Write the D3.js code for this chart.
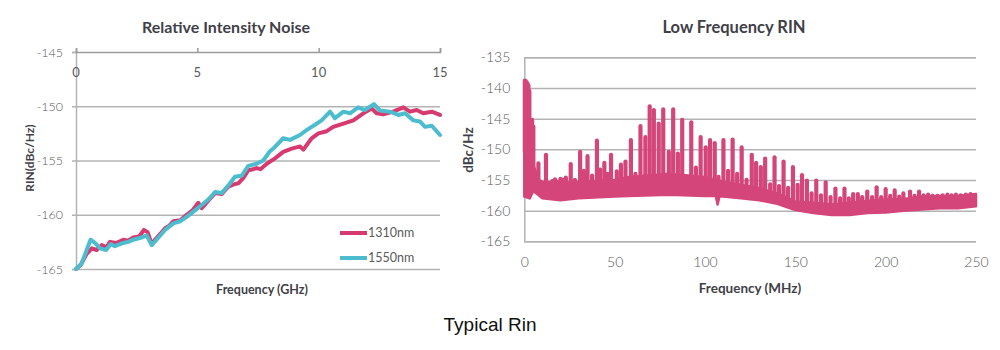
<!DOCTYPE html>
<html>
<head>
<meta charset="utf-8">
<script src="https://cdn.jsdelivr.net/npm/d3@7"></script>
<style>
  html, body { margin: 0; padding: 0; background: #fff; }
  svg { display: block; }
</style>
</head>
<body>
<svg id="chart" width="1000" height="350"></svg>
<script>
// ---------------- DATA ----------------
// Left chart: Relative Intensity Noise (GHz vs dBc/Hz)
const ghzTicks = [0, 5, 10, 15];
const rinTicks = [-145, -150, -155, -160, -165];
const seriesNames = ["1310nm", "1550nm"];

const ghz1310 = [0.0,0.2,0.44,0.65,0.85,1.06,1.25,1.4,1.65,1.95,2.15,2.36,2.6,2.8,2.95,3.12,3.3,3.5,3.67,3.85,4.01,4.3,4.56,4.8,5.04,5.18,5.45,5.73,6.0,6.28,6.5,6.69,6.9,7.1,7.3,7.44,7.6,7.86,8.2,8.54,8.89,9.23,9.37,9.71,9.99,10.33,10.6,11.02,11.43,11.84,12.18,12.39,12.66,13.07,13.49,13.76,14.04,14.31,14.66,15.0];
const rin1310 = [-165.0,-164.6,-163.6,-163.1,-163.25,-162.8,-163.0,-162.5,-162.6,-162.3,-162.4,-162.1,-162.0,-161.4,-161.6,-162.7,-162.2,-161.7,-161.25,-161.0,-160.6,-160.5,-160.0,-159.6,-158.9,-159.4,-158.7,-158.0,-158.1,-157.4,-157.2,-157.1,-156.6,-155.9,-155.8,-155.7,-155.8,-155.3,-154.8,-154.2,-153.9,-153.7,-154.0,-152.95,-152.5,-152.3,-151.9,-151.6,-151.3,-150.65,-150.2,-150.65,-150.75,-150.5,-150.1,-150.5,-150.35,-150.65,-150.5,-150.8];

const ghz1550 = [0.0,0.23,0.44,0.6,0.78,0.99,1.24,1.43,1.6,1.95,2.15,2.36,2.7,2.91,3.12,3.32,3.67,4.01,4.29,4.56,4.9,5.18,5.45,5.73,6.0,6.28,6.55,6.83,7.1,7.44,7.72,7.97,8.13,8.54,8.82,9.23,9.5,9.85,10.12,10.47,10.67,11.02,11.29,11.63,11.9,12.28,12.53,12.94,13.28,13.56,13.9,14.17,14.38,14.66,15.0];
const rin1550 = [-165.0,-164.5,-163.25,-162.3,-162.6,-163.1,-163.25,-162.7,-162.9,-162.6,-162.5,-162.3,-162.1,-161.9,-162.8,-162.3,-161.4,-160.8,-160.6,-160.2,-159.6,-159.1,-158.6,-157.9,-158.0,-157.3,-156.5,-156.4,-155.5,-155.3,-155.0,-154.2,-153.9,-152.95,-153.1,-152.65,-152.2,-151.7,-151.3,-150.5,-151.1,-150.5,-150.65,-150.1,-150.35,-149.8,-150.4,-150.5,-150.8,-150.65,-151.3,-151.4,-151.9,-151.8,-152.65];

// Right chart: Low Frequency RIN (MHz vs dBc/Hz)
const mhzTicks = [0, 50, 100, 150, 200, 250];
const dbcTicks = [-135, -140, -145, -150, -155, -160, -165];

const floorMHz  = [0, 3, 5, 8, 10, 20, 30, 50, 58, 80, 100, 106, 107, 108, 110, 120, 130, 140, 150, 160, 170, 180, 190, 200, 210, 220, 230, 240, 250];
const floorLow  = [-157.7,-158.0,-156.8,-157.5,-158.0,-158.3,-158.0,-157.7,-157.6,-157.4,-157.6,-157.6,-159.0,-157.7,-157.7,-158.0,-158.3,-158.9,-159.9,-160.4,-160.7,-160.7,-160.4,-160.3,-160.0,-159.8,-159.6,-159.6,-159.3];
const floorHigh = [-150.0,-151.0,-152.5,-155.0,-155.3,-155.5,-155.3,-155.0,-154.5,-154.0,-154.5,-155.0,-155.0,-155.1,-155.3,-155.8,-156.3,-157.2,-158.5,-158.7,-159.0,-158.7,-158.4,-158.2,-158.1,-157.7,-157.6,-157.6,-157.3];

const spikeMHz = [0.3,0.8,1.3,1.8,2.3,2.8,4.3,5.0,7.8,12.0,15.5,17.0,18.5,20.0,21.5,23.0,25.7,28.0,30.9,33.0,35.0,37.5,40.2,42.0,44.3,46.0,48.0,51.2,53.5,56.0,59.0,61.5,64.3,67.0,69.4,71.7,74.4,76.9,80.0,82.4,85.0,87.4,90.0,92.4,95.0,97.6,100.4,102.8,105.4,107.5,110.2,112.8,115.3,117.8,120.3,123.0,125.9,128.3,130.9,133.3,136.1,138.5,141.0,143.5,146.0,148.7,151.3,153.7,156.4,159.0,161.6,164.2,166.8,169.5,172.2,174.8,177.2,179.6,182.0,184.6,187.0,189.8,192.5,195.0,197.5,200.0,202.5,205.0,207.5,209.8,213.5,216.0,218.5,221.0,223.5,226.0,228.7,231.5,234.2,236.5,238.9,241.5,244.4,247.0];
const spikeTop = [-138.8,-138.9,-139.1,-139.3,-139.6,-140.5,-145.2,-146.3,-152.3,-150.9,-155.2,-154.9,-155.3,-154.8,-155.0,-154.6,-152.4,-155.0,-150.4,-153.5,-151.1,-154.3,-148.6,-153.3,-152.2,-154.0,-150.9,-153.6,-152.5,-152.0,-148.5,-154.0,-146.2,-148.0,-143.0,-143.6,-145.8,-143.5,-150.4,-143.5,-150.7,-145.2,-154.8,-145.6,-153.0,-148.0,-149.7,-148.5,-149.0,-154.5,-148.5,-153.5,-148.4,-154.0,-149.7,-155.0,-150.9,-152.2,-152.9,-151.5,-155.7,-151.3,-156.0,-152.0,-156.3,-152.9,-155.8,-154.2,-155.1,-157.2,-155.1,-157.5,-155.4,-157.8,-156.4,-158.0,-156.4,-158.0,-157.3,-157.3,-157.8,-156.9,-157.8,-156.2,-157.8,-156.5,-157.6,-156.7,-157.7,-157.2,-156.9,-157.6,-156.9,-157.5,-157.4,-157.6,-157.6,-157.5,-157.4,-157.5,-157.4,-157.5,-157.4,-157.3];

// ---------------- STYLE ----------------
const PINK_L = "#d63a6f";
const CYAN = "#4cbccf";
const PINK_R = "#d4467a";
const GRID = "#b3b3b3";
const TICKC = "#5a5a5a";
const TITLEC = "#3f3f48";
const FONT = "Lato, 'Open Sans', sans-serif";

const svg = d3.select("#chart");

// ============ LEFT CHART ============
const xL = d3.scaleLinear().domain([0, 15]).range([76, 440]);
const yL = d3.scaleLinear().domain([-165, -145]).range([269, 52]);
const gL = svg.append("g");

gL.append("g").attr("class", "grid")
  .attr("transform", `translate(${xL(0)},0)`)
  .call(d3.axisLeft(yL).tickValues(rinTicks.filter(v => v !== -145)).tickSize(-(xL(15) - xL(0))).tickFormat(""))
  .call(g => g.select(".domain").remove())
  .call(g => g.selectAll("line").attr("stroke", GRID).attr("stroke-width", 1.5));

gL.append("g")
  .attr("transform", `translate(${xL(0)},0)`)
  .call(d3.axisLeft(yL).tickValues(rinTicks).tickSize(4).tickPadding(9).tickFormat(d => d))
  .call(g => g.select(".domain").attr("stroke", GRID).attr("stroke-width", 1.5))
  .call(g => g.selectAll("line").attr("stroke", GRID).attr("stroke-width", 1.5))
  .call(g => g.selectAll("text").attr("fill", TICKC).attr("font-family", FONT).attr("font-weight", 300).attr("font-size", 12.5));

gL.append("g")
  .attr("transform", `translate(0,${yL(-145)})`)
  .call(d3.axisTop(xL).tickValues(ghzTicks).tickSize(4).tickFormat(""))
  .call(g => g.select(".domain").attr("stroke", "#9a9a9a").attr("stroke-width", 1.5))
  .call(g => g.selectAll("line").attr("stroke", "#9a9a9a").attr("stroke-width", 1.5));
gL.append("g").selectAll("text").data(ghzTicks).join("text")
  .attr("x", d => xL(d)).attr("y", yL(-145) + 25)
  .attr("text-anchor", "middle")
  .attr("fill", TICKC).attr("font-family", FONT).attr("font-size", 13)
  .text(d => d);

const lineL = d3.line().x(d => xL(d[0])).y(d => yL(d[1])).curve(d3.curveLinear);
const s1310 = ghz1310.map((g, i) => [g, rin1310[i]]);
const s1550 = ghz1550.map((g, i) => [g, rin1550[i]]);
gL.append("path").datum(s1310).attr("d", lineL)
  .attr("fill", "none").attr("stroke", PINK_L).attr("stroke-width", 4).attr("stroke-linejoin", "round").attr("stroke-linecap", "round");
gL.append("path").datum(s1550).attr("d", lineL)
  .attr("fill", "none").attr("stroke", CYAN).attr("stroke-width", 4).attr("stroke-linejoin", "round").attr("stroke-linecap", "round");

const legColors = [PINK_L, CYAN];
const legY = [233, 258];
seriesNames.forEach((n, i) => {
  gL.append("line").attr("x1", 340).attr("x2", 367).attr("y1", legY[i]).attr("y2", legY[i])
    .attr("stroke", legColors[i]).attr("stroke-width", 4);
  gL.append("text").attr("x", 368).attr("y", legY[i]).attr("dy", "0.35em")
    .attr("fill", TICKC).attr("font-family", FONT).attr("font-size", 12.5).text(n);
});

gL.append("text").attr("x", 226).attr("y", 33).attr("text-anchor", "middle")
  .attr("fill", TITLEC).attr("font-family", FONT).attr("font-weight", 700).attr("font-size", 16)
  .text("Relative Intensity Noise");
gL.append("text").attr("x", 262).attr("y", 294).attr("text-anchor", "middle")
  .attr("fill", TITLEC).attr("font-family", FONT).attr("font-weight", 700).attr("font-size", 12.5)
  .text("Frequency (GHz)");
gL.append("text").attr("transform", "translate(34,158) rotate(-90)").attr("text-anchor", "middle")
  .attr("fill", TITLEC).attr("font-family", FONT).attr("font-weight", 700).attr("font-size", 12)
  .text("RIN(dBc/Hz)");

// ============ RIGHT CHART ============
const xR = d3.scaleLinear().domain([0, 250]).range([524.3, 976]);
const yR = d3.scaleLinear().domain([-165, -135]).range([241.3, 57.3]);
const gR = svg.append("g");

gR.append("g")
  .attr("transform", `translate(${xR(0)},0)`)
  .call(d3.axisLeft(yR).tickValues(dbcTicks).tickSize(-(xR(250) - xR(0))).tickPadding(14).tickFormat(d => d))
  .call(g => g.select(".domain").attr("stroke", GRID).attr("stroke-width", 1.5))
  .call(g => g.selectAll("line").attr("stroke", GRID).attr("stroke-width", 1.5))
  .call(g => g.selectAll("text").attr("fill", TICKC).attr("font-family", FONT).attr("font-weight", 300).attr("font-size", 14));

gR.append("g")
  .attr("transform", `translate(0,${yR(-165)})`)
  .call(d3.axisBottom(xR).tickValues(mhzTicks).tickSize(0).tickPadding(16).tickFormat(d => d))
  .call(g => g.select(".domain").remove())
  .call(g => g.selectAll("text").attr("fill", TICKC).attr("font-family", FONT).attr("font-weight", 300).attr("font-size", 14));

const band = floorMHz.map((f, i) => ({ f, lo: floorLow[i], hi: floorHigh[i] }));
const area = d3.area().x(d => xR(d.f)).y0(d => yR(d.lo)).y1(d => yR(d.hi));
gR.append("path").datum(band).attr("d", area)
  .attr("fill", PINK_R).attr("stroke", PINK_R).attr("stroke-width", 2.5).attr("stroke-linejoin", "round");

function bandTopAt(f) {
  const i = d3.bisectRight(floorMHz, f);
  const i0 = Math.max(0, i - 1), i1 = Math.min(floorMHz.length - 1, i);
  if (i0 === i1) return floorHigh[i0];
  const t = (f - floorMHz[i0]) / (floorMHz[i1] - floorMHz[i0]);
  return floorHigh[i0] + t * (floorHigh[i1] - floorHigh[i0]);
}
const spikes = spikeMHz.map((f, i) => ({ f, top: spikeTop[i] }));
gR.append("g").selectAll("line").data(spikes).join("line")
  .attr("x1", d => xR(d.f)).attr("x2", d => xR(d.f))
  .attr("y1", d => yR(bandTopAt(d.f)) + 2).attr("y2", d => yR(d.top))
  .attr("stroke", PINK_R).attr("stroke-width", 4.2).attr("stroke-linecap", "round");

gR.append("text").attr("x", 734).attr("y", 33).attr("text-anchor", "middle")
  .attr("fill", TITLEC).attr("font-family", FONT).attr("font-weight", 700).attr("font-size", 16.5)
  .text("Low Frequency RIN");
gR.append("text").attr("x", 750).attr("y", 293).attr("text-anchor", "middle")
  .attr("fill", TITLEC).attr("font-family", FONT).attr("font-weight", 700).attr("font-size", 13.5)
  .text("Frequency (MHz)");
gR.append("text").attr("transform", "translate(473,150) rotate(-90)").attr("text-anchor", "middle")
  .attr("fill", TITLEC).attr("font-family", FONT).attr("font-weight", 700).attr("font-size", 13.5)
  .text("dBc/Hz");

svg.append("text").attr("x", 490).attr("y", 331).attr("text-anchor", "middle")
  .attr("fill", "#111").attr("font-family", "'Liberation Sans', Arial, sans-serif").attr("font-size", 19)
  .text("Typical Rin");
</script>
</body>
</html>
